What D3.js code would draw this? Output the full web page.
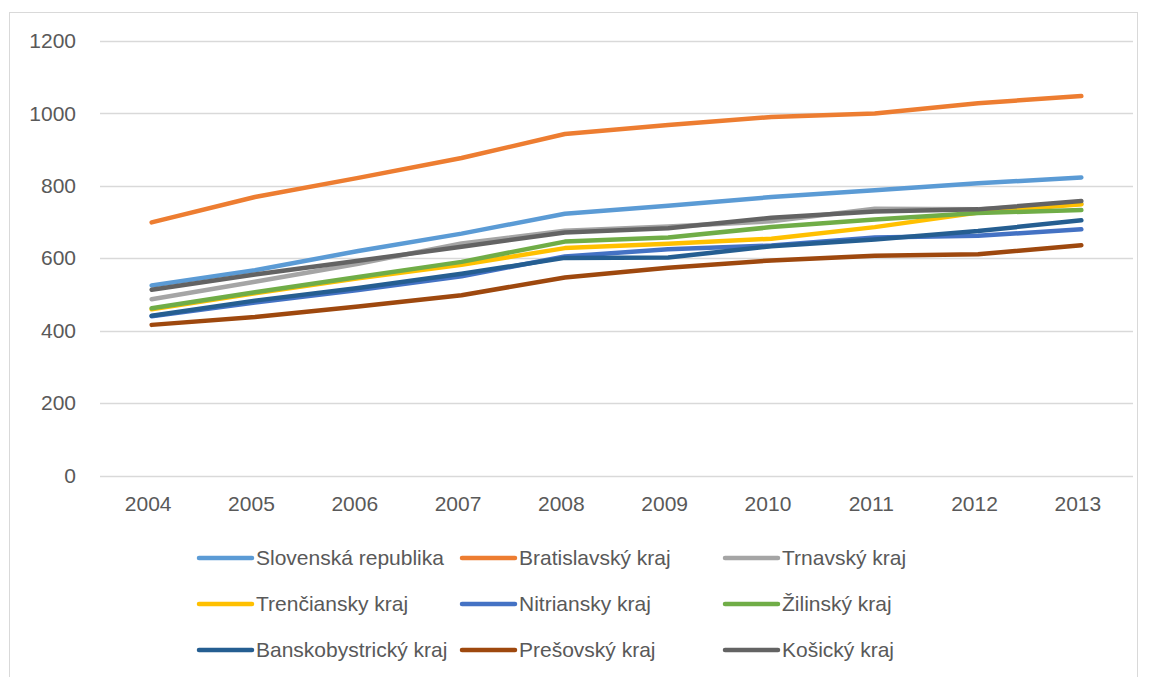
<!DOCTYPE html>
<html><head><meta charset="utf-8">
<script src="https://cdn.jsdelivr.net/npm/d3@7"></script>
<style>body{margin:0;background:#fff}text{font-family:"Liberation Sans",Arial,sans-serif;fill:#595959}</style>
</head><body><svg id="c" width="1149" height="677"></svg>
<script>
const years = ["2004","2005","2006","2007","2008","2009","2010","2011","2012","2013"];
const seriesNames = ["Slovenská republika","Bratislavský kraj","Trnavský kraj","Trenčiansky kraj","Nitriansky kraj","Žilinský kraj","Banskobystrický kraj","Prešovský kraj","Košický kraj"];
const colors = ["#5B9BD5","#ED7D31","#A5A5A5","#FFC000","#4472C4","#70AD47","#255E91","#9E480E","#636363"];
const slovenska   = [525,567,620,668,723,745,769,788,807,823];
const bratislava  = [699,769,822,877,943,968,990,1000,1028,1048];
const trnava      = [487,535,585,641,676,688,702,737,735,750];
const trencin     = [459,503,545,582,628,640,654,686,726,749];
const nitra       = [440,478,512,550,605,625,635,657,662,680];
const zilina      = [462,506,548,590,646,657,686,707,725,733];
const banska      = [441,483,518,557,601,602,633,652,675,705];
const presov      = [416,438,467,498,547,574,594,607,611,636];
const kosice      = [513,555,593,632,671,683,712,729,735,758];
const yTicks = [0,200,400,600,800,1000,1200];
const values = [slovenska,bratislava,trnava,trencin,nitra,zilina,banska,presov,kosice];

const FS = "21px";
const svg = d3.select("#c");
svg.append("rect").attr("x",9.5).attr("y",12.5).attr("width",1128).attr("height",700)
  .attr("fill","none").attr("stroke","#D9D9D9").attr("stroke-width",1);

const x = d3.scalePoint().domain(years).range([100,1133]).padding(0.5);
const y = d3.scaleLinear().domain([0,1200]).range([475.5,41]);

svg.append("g").selectAll("line").data(yTicks).join("line")
  .attr("x1",100).attr("x2",1133).attr("y1",d=>Math.round(y(d))+0.5).attr("y2",d=>Math.round(y(d))+0.5)
  .attr("stroke","#D9D9D9").attr("stroke-width",1.3);

const yAxis = svg.append("g").attr("transform","translate(84,0)")
  .call(d3.axisLeft(y).tickValues(yTicks).tickFormat(d3.format("d")).tickSize(0).tickPadding(8));
yAxis.select(".domain").remove();
yAxis.selectAll("text").style("font-size",FS).attr("fill","#595959").attr("font-family","Liberation Sans, Arial, sans-serif");

const xAxis = svg.append("g").attr("transform","translate(-4,492)")
  .call(d3.axisBottom(x).tickSize(0).tickPadding(4));
xAxis.select(".domain").remove();
xAxis.selectAll("text").style("font-size",FS).attr("fill","#595959").attr("font-family","Liberation Sans, Arial, sans-serif");

const line = d3.line().x((d,i)=>x(years[i])).y(d=>y(d));
values.forEach((v,k)=>{
  svg.append("path").datum(v).attr("d",line).attr("fill","none")
    .attr("stroke",colors[k]).attr("stroke-width",4.5)
    .attr("stroke-linecap","round").attr("stroke-linejoin","round");
});

const colX = [199,462,725];
const rowY = [558,604,650];
const lg = svg.append("g");
seriesNames.forEach((n,k)=>{
  const cx = colX[k%3], cy = rowY[Math.floor(k/3)];
  lg.append("line").attr("x1",cx).attr("x2",cx+53).attr("y1",cy).attr("y2",cy)
    .attr("stroke",colors[k]).attr("stroke-width",4.5).attr("stroke-linecap","round");
  lg.append("text").attr("x",cx+57).attr("y",cy).attr("dy","0.35em")
    .style("font-size",FS).text(n);
});
</script></body></html>
